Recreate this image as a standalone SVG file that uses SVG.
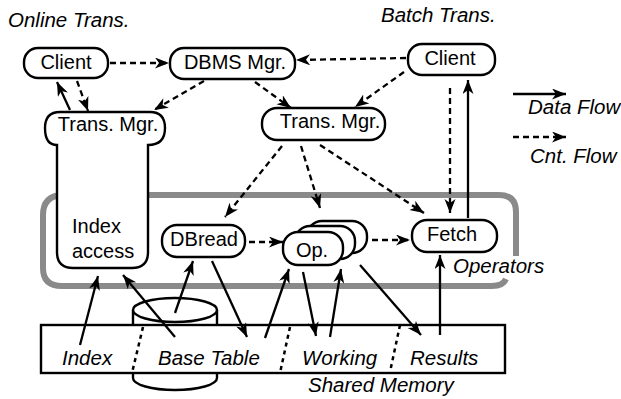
<svg xmlns="http://www.w3.org/2000/svg" width="621" height="399" viewBox="0 0 621 399">
<style>
.box{fill:#fff;stroke:#000;stroke-width:2.4}
.lbl{font-family:"Liberation Sans",Arial,sans-serif;font-size:20px;fill:#000}
.it{font-family:"Liberation Sans",Arial,sans-serif;font-size:20.5px;font-style:italic;fill:#000}
.d{fill:none;stroke:#000;stroke-width:2.3;stroke-dasharray:6,4;marker-end:url(#ah)}
.s{fill:none;stroke:#000;stroke-width:2.3;marker-end:url(#ah)}
.div{fill:none;stroke:#000;stroke-width:2.5;stroke-dasharray:4,4}
</style>
<defs>
<marker id="ah" markerUnits="userSpaceOnUse" markerWidth="15" markerHeight="12" refX="14" refY="5.5" orient="auto">
<path d="M0,0 L14,5.5 L0,11 L4,5.5 Z" fill="#000"/>
</marker>
</defs>
<rect width="621" height="399" fill="#fff"/>

<g id="titles">
<text class="it" x="8" y="27" font-size="21">Online Trans.</text>
<text class="it" x="381" y="22" font-size="21">Batch Trans.</text>
</g>

<g id="operators">
<path d="M516,256 V212 Q516,195 499,195 H62 Q43,196 43,215 V268 Q43,286 62,286 H492 Q503,286 506,279" fill="none" stroke="#8a8a8a" stroke-width="6"/>
<text class="it" x="453" y="273">Operators</text>
</g>

<g id="shared-memory">
<path d="M133,310 V378 A42,12 0 0 0 217,378 V310" class="box"/>
<ellipse cx="175" cy="310" rx="42" ry="12" class="box"/>
<rect x="41" y="325" width="464" height="48" class="box"/>
<path class="div" d="M143,327 L132,373"/>
<path class="div" d="M290,327 L280,373"/>
<path class="div" d="M400,325 L390,372"/>
<text class="it" x="62" y="365">Index</text>
<text class="it" x="158" y="365">Base Table</text>
<text class="it" x="302" y="365">Working</text>
<text class="it" x="410" y="365">Results</text>
<text class="it" x="308" y="392">Shared Memory</text>
</g>

<g id="client-online">
<rect class="box" x="24" y="48" width="84" height="30" rx="14"/>
<text class="lbl" x="66" y="69" text-anchor="middle">Client</text>
</g>
<g id="dbms-mgr">
<rect class="box" x="170" y="48" width="125" height="31" rx="14"/>
<text class="lbl" x="235" y="69" text-anchor="middle">DBMS Mgr.</text>
</g>
<g id="client-batch">
<rect class="box" x="408" y="44" width="87" height="31" rx="14"/>
<text class="lbl" x="450" y="65" text-anchor="middle">Client</text>
</g>
<g id="trans-mgr-online">
<path class="box" d="M60,112 H150 Q165,112 165,128 Q165,145 148,145 V252 Q148,268 132,268 H73 Q57,268 57,252 V145 Q45,145 45,128 Q45,112 60,112 Z"/>
<text class="lbl" x="108" y="131" text-anchor="middle">Trans. Mgr.</text>
<text class="lbl" x="72" y="233">Index</text>
<text class="lbl" x="72" y="258">access</text>
</g>
<g id="trans-mgr-batch">
<rect class="box" x="262" y="108" width="123" height="32" rx="15"/>
<text class="lbl" x="330" y="128" text-anchor="middle">Trans. Mgr.</text>
</g>
<g id="dbread">
<rect class="box" x="162" y="225" width="83" height="32" rx="15"/>
<text class="lbl" x="204" y="246" text-anchor="middle">DBread</text>
</g>
<g id="op">
<rect class="box" x="307" y="221" width="60" height="32" rx="15"/>
<rect class="box" x="295" y="226" width="60" height="33" rx="15"/>
<rect class="box" x="283" y="232" width="60" height="33" rx="15"/>
<text class="lbl" x="312" y="257" text-anchor="middle">Op.</text>
</g>
<g id="fetch">
<rect class="box" x="412" y="220" width="85" height="32" rx="15"/>
<text class="lbl" x="452" y="241" text-anchor="middle">Fetch</text>
</g>

<g id="legend">
<path class="s" d="M513,94 H566"/>
<text class="it" x="528" y="114" font-size="19.5">Data Flow</text>
<path class="d" d="M513,137 H566"/>
<text class="it" x="530" y="163" font-size="19.5">Cnt. Flow</text>
</g>

<g id="connectors">
<path class="d" d="M110,63 H169"/>
<path class="d" d="M406,58 L296,60"/>
<path class="d" d="M204,81 L154,110"/>
<path class="d" d="M255,82 L291,108"/>
<path class="d" d="M404,72 L355,107"/>
<path class="s" d="M70,110 L57,82"/>
<path class="d" d="M77,81 L88,111"/>
<path class="d" d="M282,146 L225,217"/>
<path class="d" d="M301,146 L320,208"/>
<path class="d" d="M320,145 L424,213"/>
<path class="d" d="M450,88 V213"/>
<path class="s" d="M468,218 V80"/>
<path class="d" d="M249,242 H283"/>
<path class="d" d="M372,240 H410"/>
<path class="s" d="M80,345 L98,276"/>
<path class="s" d="M175,337 L123,275"/>
<path class="s" d="M175,313 L193,261"/>
<path class="s" d="M212,261 L247,337"/>
<path class="s" d="M265,338 L289,269"/>
<path class="s" d="M303,272 L316,336"/>
<path class="s" d="M330,337 L341,269"/>
<path class="s" d="M360,265 L421,335"/>
<path class="s" d="M440,335 V255"/>
</g>
</svg>
